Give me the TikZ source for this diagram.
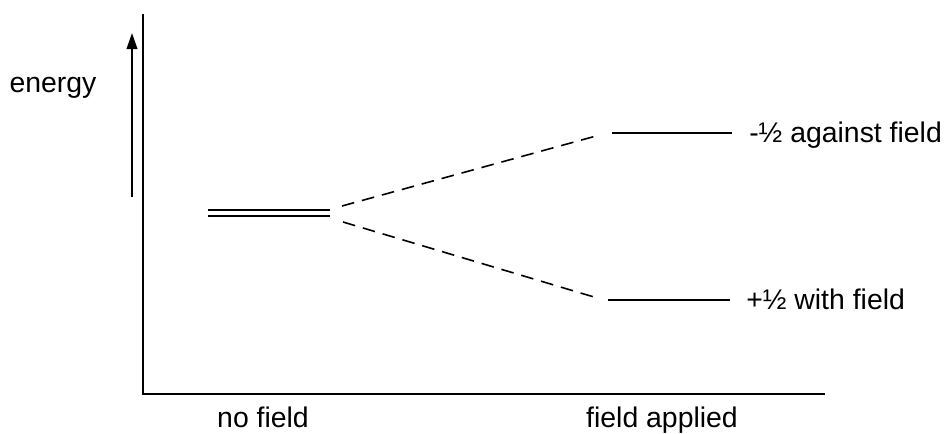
\documentclass[tikz,border=0pt]{standalone}
\usepackage{fontspec}
\setmainfont{Liberation Sans}
\usetikzlibrary{arrows.meta}
\begin{document}
\begin{tikzpicture}[x=0.75pt,y=-0.75pt,
  lbl/.style={inner sep=0pt,anchor=base,font=\fontsize{21.3}{25}\selectfont},
  axis/.style={line width=1.2pt},
  level/.style={line width=1.2pt},
  split/.style={line width=1.2pt,dash pattern=on 9.5pt off 6pt}]
\useasboundingbox (0,0) rectangle (949,433);
% axes
\coordinate (ytop) at (143,14);
\coordinate (orig) at (143,394);
\coordinate (xend) at (825,394);
\draw[axis] (ytop) -- (orig) -- (xend);
% energy arrow
\coordinate (ea) at (132,197);
\coordinate (eb) at (132,33);
\draw[axis,-{Triangle[width=8pt,length=12pt]}] (ea) -- (eb);
\node[lbl] (energy) at (53,92) {energy};
% degenerate level
\coordinate (d1a) at (208,210);
\coordinate (d1b) at (330,210);
\coordinate (d2a) at (208,216);
\coordinate (d2b) at (330,216);
\draw[level] (d1a) -- (d1b);
\draw[level] (d2a) -- (d2b);
% split levels
\coordinate (ua) at (612,133);
\coordinate (ub) at (732,133);
\coordinate (la) at (608,300);
\coordinate (lb) at (730,300);
\draw[level] (ua) -- (ub);
\draw[level] (la) -- (lb);
% dashed connectors
\coordinate (s1) at (342,206);
\coordinate (e1) at (596,136);
\coordinate (s2) at (343,222);
\coordinate (e2) at (594,297);
\draw[split] (s1) -- (e1);
\draw[split] (s2) -- (e2);
% labels
\node[lbl,anchor=base west] (against) at (749,142) {-½ against field};
\node[lbl,anchor=base west] (with) at (746,309) {+½ with field};
\node[lbl] (nofield) at (263,427) {no field};
\node[lbl] (applied) at (662,427) {field applied};
\end{tikzpicture}
\end{document}
